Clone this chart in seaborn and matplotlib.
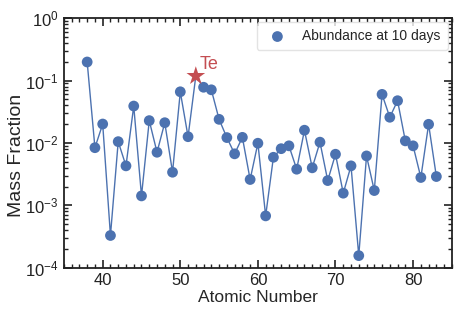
import numpy as np
import pandas as pd
import matplotlib
matplotlib.use("Agg")
import matplotlib.pyplot as plt
import seaborn as sns
from matplotlib.ticker import LogLocator, MultipleLocator, NullFormatter

# Atomic numbers and mass fractions
atomic_number = list(range(38, 84))
mass_fraction = [
    0.198, 0.0084, 0.0201, 0.00033, 0.0105, 0.0043, 0.039, 0.00142,
    0.0228, 0.0071, 0.0211, 0.0034, 0.066, 0.0126, 0.118, 0.078,
    0.071, 0.0239, 0.0122, 0.0067, 0.0123, 0.0026, 0.0099, 0.00068,
    0.0059, 0.0081, 0.0090, 0.0038, 0.016, 0.0040, 0.0103, 0.0025,
    0.0066, 0.00157, 0.0043, 0.000157, 0.0062, 0.00173, 0.060, 0.0258,
    0.0475, 0.0108, 0.0090, 0.0028, 0.0199, 0.0029,
]
highlight_z = 52
highlight_label = "Te"

df = pd.DataFrame({"Z": atomic_number, "X": mass_fraction})

sns.set_theme(style="ticks")
plt.rcParams["font.family"] = ["Liberation Sans", "DejaVu Sans"]
plt.rcParams["mathtext.fontset"] = "custom"
plt.rcParams["mathtext.rm"] = "Liberation Sans"
plt.rcParams["mathtext.it"] = "Liberation Sans:italic"

blue = "#4C72B0"
red = "#C44E52"

fig = plt.figure(figsize=(4.63, 3.17), dpi=100)
ax = fig.add_axes([0.138, 0.155, 0.838, 0.788])

sns.lineplot(data=df, x="Z", y="X", ax=ax, color=blue, lw=1.0, zorder=2)
sns.scatterplot(data=df[df["Z"] != highlight_z], x="Z", y="X", ax=ax,
                color=blue, s=60, edgecolor="none", zorder=3,
                label="Abundance at 10 days")
hl = df[df["Z"] == highlight_z]
ax.scatter(hl["Z"], hl["X"], marker="*", s=200, color=red, zorder=4,
           edgecolor="none")
ax.text(highlight_z + 0.55, 0.18, highlight_label, color=red, fontsize=13,
        va="center", ha="left")

ax.set_yscale("log")
ax.set_ylim(1e-4, 1)
ax.set_xlim(35, 85)
ax.xaxis.set_major_locator(MultipleLocator(10))
ax.xaxis.set_minor_locator(MultipleLocator(1))
ax.yaxis.set_major_locator(LogLocator(base=10, numticks=10))
ax.yaxis.set_minor_locator(LogLocator(base=10, subs=np.arange(2, 10), numticks=20))
ax.yaxis.set_minor_formatter(NullFormatter())

ax.tick_params(which="both", direction="in", top=True, right=True,
               labelsize=12, colors="#222222")
ax.tick_params(which="major", length=6, width=1.2, pad=4)
ax.tick_params(which="minor", length=3, width=1.0)
for s in ax.spines.values():
    s.set_linewidth(1.3)
    s.set_color("#222222")

ax.set_xlabel("Atomic Number", fontsize=12.5, labelpad=1)
ax.set_ylabel("Mass Fraction", fontsize=14)
ax.yaxis.set_label_coords(-0.10, 0.45)

leg = ax.legend(loc="upper right", fontsize=10, frameon=True,
                handletextpad=0.8, borderpad=0.5, borderaxespad=0.3)
leg.get_frame().set_edgecolor("#dddddd")

fig.savefig("out.png", dpi=100)
